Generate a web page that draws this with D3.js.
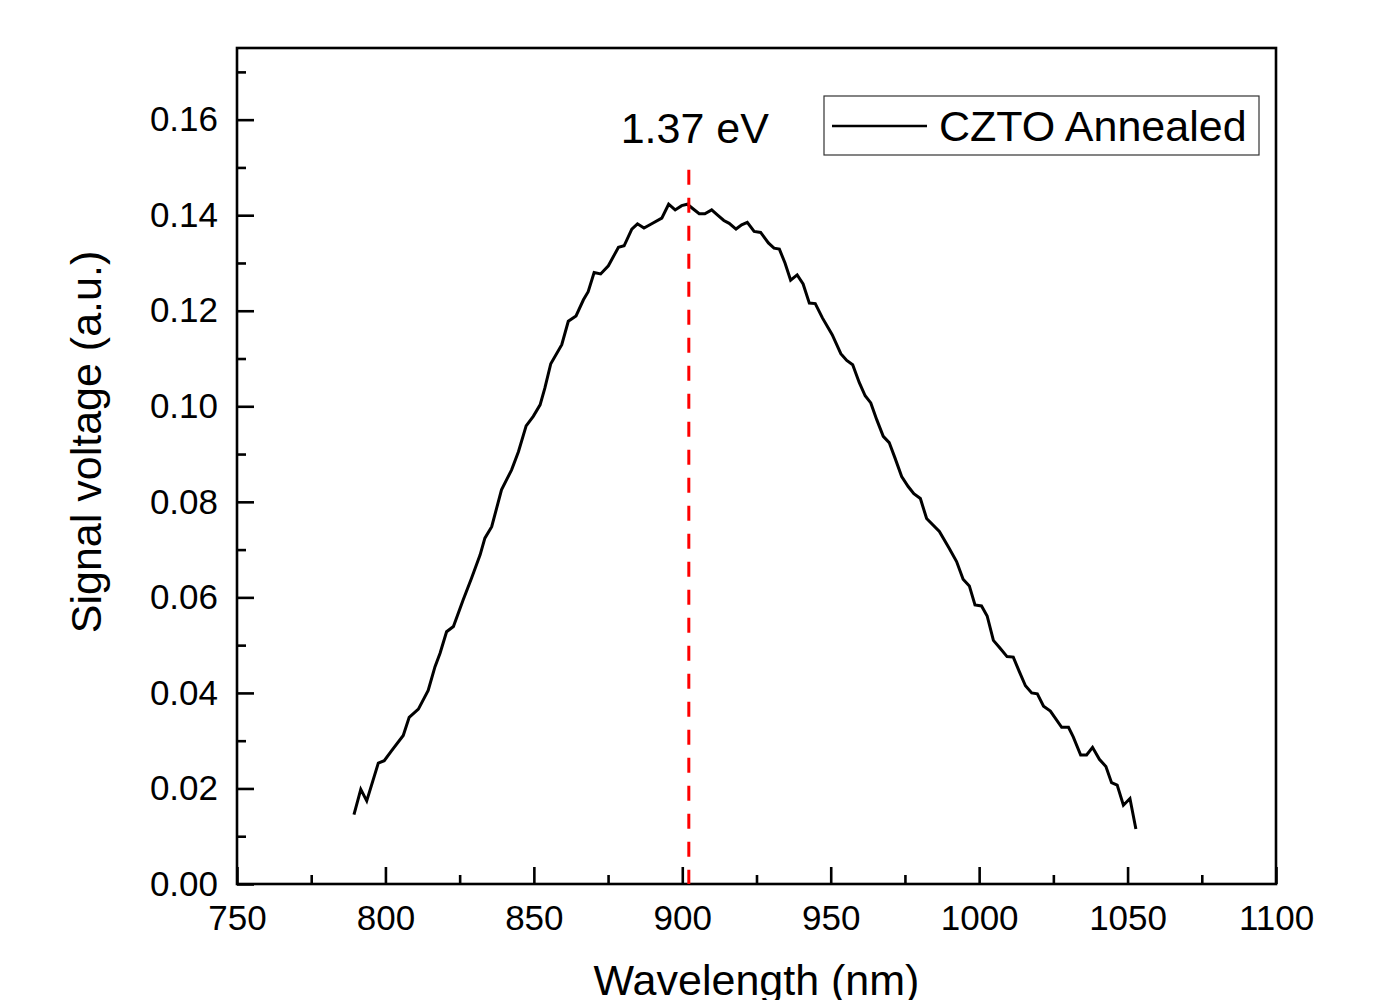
<!DOCTYPE html>
<html lang="en">
<head>
<meta charset="UTF-8">
<title>CZTO Annealed signal</title>
<script src="https://d3js.org/d3.v7.min.js"></script>
<style>
    body { margin: 0; background: #fff; }
    svg { font-family: "Liberation Sans", Arial, sans-serif; }
    .axis text { font-size: 35px; fill: #000; }
    .axis line { stroke: #000; stroke-width: 2.6; }
    .axis path { display: none; }
    .frame { fill: none; stroke: #000; stroke-width: 2.6; }
    .curve { fill: none; stroke: #000; stroke-width: 3; stroke-linejoin: miter; }
    .peak { stroke: #ff0000; stroke-width: 3; stroke-dasharray: 15,13; }
    .title { font-size: 43px; fill: #000; }
</style>
</head>
<body>
<svg width="1373" height="1000"></svg>
<script>
// wavelength (nm)
const wavelength = [
    789.4, 791.7, 793.7, 797.6, 799.6, 802.1, 806.0, 808.0, 811.1, 814.4,
    816.7, 818.4, 820.6, 822.9, 826.2, 829.0, 831.9, 833.5, 835.8, 839.1,
    842.5, 844.8, 847.4, 849.8, 852.1, 853.7, 855.7, 859.4, 861.6, 864.2,
    866.7, 868.3, 870.3, 872.5, 875.1, 878.5, 880.4, 883.0, 884.9, 887.1,
    889.7, 893.1, 895.4, 897.6, 899.8, 901.7, 903.7, 905.7, 907.6, 909.9,
    912.1, 914.0, 915.8, 918.1, 920.0, 921.9, 924.2, 926.4, 929.0, 930.9,
    932.7, 934.6, 936.5, 938.7, 940.7, 942.8, 944.8, 947.2, 950.5, 953.4,
    955.4, 957.4, 959.6, 961.6, 963.5, 965.5, 967.7, 969.7, 971.7, 973.9,
    976.1, 978.0, 980.2, 982.3, 986.6, 989.9, 992.4, 994.6, 996.7, 998.6,
    1000.8, 1002.7, 1004.8, 1007.0, 1009.4, 1011.5, 1013.5, 1015.6, 1017.7, 1019.6,
    1021.7, 1024.0, 1027.8, 1030.1, 1031.7, 1034.2, 1036.2, 1038.2, 1040.5, 1042.7,
    1044.6, 1046.5, 1048.6, 1050.8, 1052.8
];
// signal voltage (a.u.)
const signal = [
    0.0145, 0.0198, 0.0174, 0.0253, 0.0258, 0.0279, 0.0311, 0.0349, 0.0366, 0.0405,
    0.0455, 0.0483, 0.0528, 0.0539, 0.0595, 0.0640, 0.0689, 0.0724, 0.0748, 0.0825,
    0.0867, 0.0905, 0.0959, 0.0979, 0.1003, 0.1038, 0.1089, 0.1129, 0.1178, 0.1189,
    0.1223, 0.1240, 0.1280, 0.1277, 0.1294, 0.1333, 0.1336, 0.1371, 0.1382, 0.1373,
    0.1382, 0.1394, 0.1423, 0.1411, 0.1420, 0.1423, 0.1413, 0.1403, 0.1403, 0.1411,
    0.1399, 0.1389, 0.1383, 0.1371, 0.1380, 0.1385, 0.1366, 0.1364, 0.1342, 0.1331,
    0.1329, 0.1300, 0.1264, 0.1275, 0.1256, 0.1216, 0.1215, 0.1185, 0.1150, 0.1110,
    0.1096, 0.1087, 0.1050, 0.1022, 0.1007, 0.0972, 0.0937, 0.0924, 0.0891, 0.0853,
    0.0832, 0.0817, 0.0807, 0.0765, 0.0738, 0.0703, 0.0675, 0.0638, 0.0624, 0.0584,
    0.0582, 0.0561, 0.0510, 0.0494, 0.0476, 0.0475, 0.0445, 0.0415, 0.0400, 0.0398,
    0.0372, 0.0362, 0.0328, 0.0328, 0.0308, 0.0270, 0.0270, 0.0286, 0.0261, 0.0246,
    0.0212, 0.0207, 0.0165, 0.0179, 0.0115
];
const xTicks = [750, 800, 850, 900, 950, 1000, 1050, 1100];
const xMinorTicks = [775, 825, 875, 925, 975, 1025, 1075];
const yTicks = [0, 0.02, 0.04, 0.06, 0.08, 0.10, 0.12, 0.14, 0.16];
const yMinorTicks = [0.01, 0.03, 0.05, 0.07, 0.09, 0.11, 0.13, 0.15, 0.17];
const peakWavelength = 902.2;
const peakTop = 0.1495;
const peakLabel = "1.37 eV";
const seriesName = "CZTO Annealed";

const svg = d3.select("svg"),
    margin = {top: 48, right: 97, bottom: 116, left: 237},
    width = +svg.attr("width") - margin.left - margin.right,
    height = +svg.attr("height") - margin.top - margin.bottom,
    g = svg.append("g").attr("transform", "translate(" + margin.left + "," + margin.top + ")");

const x = d3.scaleLinear().domain([750, 1100]).range([0, width]);
const y = d3.scaleLinear().domain([0, 0.175]).range([height, 0]);

const data = wavelength.map((w, i) => ({w: w, v: signal[i]}));

// minor ticks first
g.append("g")
    .attr("class", "axis")
    .attr("transform", "translate(0," + height + ")")
    .call(d3.axisBottom(x).tickValues(xMinorTicks).tickSize(-9).tickSizeOuter(0).tickFormat(""));
g.append("g")
    .attr("class", "axis")
    .call(d3.axisLeft(y).tickValues(yMinorTicks).tickSize(-9).tickSizeOuter(0).tickFormat(""));

g.append("g")
    .attr("class", "axis")
    .attr("transform", "translate(0," + height + ")")
    .call(d3.axisBottom(x).tickValues(xTicks).tickSize(-17).tickSizeOuter(0).tickPadding(21).tickFormat(d3.format("d")));
g.append("g")
    .attr("class", "axis")
    .call(d3.axisLeft(y).tickValues(yTicks).tickSize(-17).tickSizeOuter(0).tickPadding(19).tickFormat(d3.format(".2f")));

g.append("rect")
    .attr("class", "frame")
    .attr("x", 0).attr("y", 0)
    .attr("width", width).attr("height", height);

const line = d3.line()
    .x(d => x(d.w))
    .y(d => y(d.v));

g.append("path")
    .datum(data)
    .attr("class", "curve")
    .attr("d", line);

g.append("line")
    .attr("class", "peak")
    .attr("x1", x(peakWavelength)).attr("x2", x(peakWavelength))
    .attr("y1", y(peakTop)).attr("y2", y(0));

g.append("text")
    .attr("class", "title")
    .attr("x", x(peakWavelength) + 6)
    .attr("y", 95)
    .attr("text-anchor", "middle")
    .text(peakLabel);

// legend
const legend = g.append("g").attr("transform", "translate(" + (824 - margin.left) + "," + (96 - margin.top) + ")");
legend.append("rect")
    .attr("width", 435).attr("height", 59)
    .attr("fill", "#fff")
    .attr("stroke", "#333").attr("stroke-width", 1.2);
legend.append("line")
    .attr("x1", 8).attr("x2", 103)
    .attr("y1", 30).attr("y2", 30)
    .attr("stroke", "#000").attr("stroke-width", 2.6);
legend.append("text")
    .attr("class", "title")
    .attr("x", 115).attr("y", 45)
    .text(seriesName);

// axis titles
svg.append("text")
    .attr("class", "title")
    .attr("x", margin.left + width / 2)
    .attr("y", 995)
    .attr("text-anchor", "middle")
    .text("Wavelength (nm)");

svg.append("text")
    .attr("class", "title")
    .attr("transform", "translate(101,442) rotate(-90)")
    .attr("text-anchor", "middle")
    .text("Signal voltage (a.u.)");
</script>
</body>
</html>
